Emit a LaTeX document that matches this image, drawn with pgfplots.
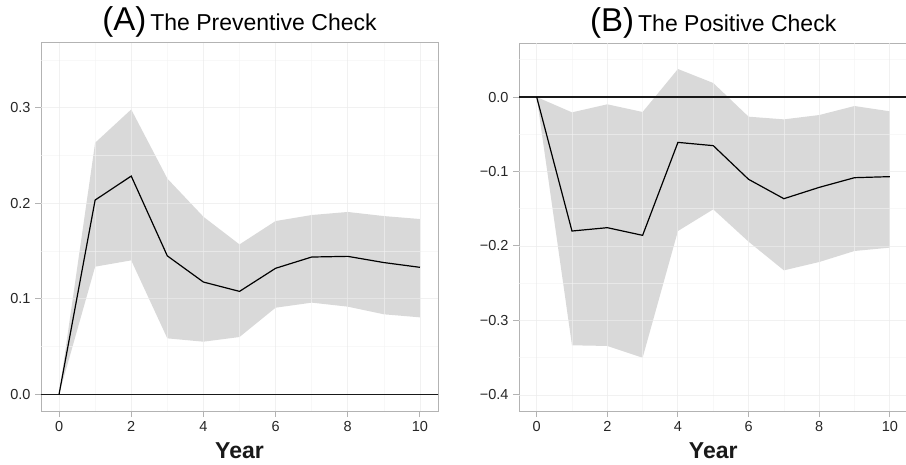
\documentclass[border=0pt]{standalone}
\usepackage{fontspec}
\setmainfont{Liberation Sans}
\usepackage{pgfplots}
\pgfplotsset{compat=1.18}
\definecolor{bandfill}{HTML}{D9D9D9}
\definecolor{framegray}{HTML}{B3B3B3}
\definecolor{majgrid}{HTML}{EBEBEB}
\definecolor{mingrid}{HTML}{F3F3F3}
\pgfplotsset{
  ggpanel/.style={
    scale only axis,
    anchor=south west,
    height=368pt,
    xmin=-0.5, xmax=10.5,
    axis line style={framegray, line width=1pt},
    tick style={framegray, line width=1pt},
    tick align=outside,
    major tick length=6pt,
    xtick={0,2,4,6,8,10},
    xticklabels={0,2,4,6,8,10},
    xtick pos=bottom, ytick pos=left,
    ticklabel style={font=\fontsize{14.5}{14.5}\selectfont, text=black!85},
    xticklabel style={yshift=-1pt},
    yticklabel style={xshift=-1pt},
    title style={at={(0.5,1)}, anchor=base, yshift=6pt},
    xlabel style={at={(0.5,0)}, anchor=base, yshift=-47pt, font=\fontsize{23}{23}\selectfont\bfseries, text=black!90},
    /pgf/number format/assume math mode=true,
  },
}
\newcommand{\vgrid}[2]{\pgfplotsinvokeforeach{#2}{\draw[#1] ({axis cs:##1,0} |- {rel axis cs:0,0}) -- ({axis cs:##1,0} |- {rel axis cs:0,1});}}
\newcommand{\hgrid}[2]{\pgfplotsinvokeforeach{#2}{\draw[#1] ({rel axis cs:0,0} |- {axis cs:0,##1}) -- ({rel axis cs:1,0} |- {axis cs:0,##1});}}
\begin{document}
\begin{tikzpicture}
\useasboundingbox (0pt,0pt) rectangle (906pt,464pt);
% Panel A
\begin{axis}[ggpanel,
  at={(41pt,53pt)}, width=397pt,
  ymin=-0.0175, ymax=0.368,
  ytick={0,0.1,0.2,0.3},
  yticklabels={0.0,0.1,0.2,0.3},
  title={{\fontsize{33}{33}\selectfont (A)}\hspace{4pt}{\fontsize{23}{23}\selectfont The Preventive Check}},
  xlabel={Year},
]
\addplot[fill=bandfill, draw=none] coordinates {
(0,0) (1,0.2635) (2,0.2984) (3,0.226) (4,0.186) (5,0.157) (6,0.1815) (7,0.1878) (8,0.191) (9,0.1867) (10,0.1836)
(10,0.0806) (9,0.0838) (8,0.0918) (7,0.096) (6,0.0907) (5,0.060) (4,0.0551) (3,0.0586) (2,0.1403) (1,0.1337) (0,0)
};
\vgrid{mingrid, line width=0.6pt, opacity=0.6}{1,3,5,7,9}
\hgrid{mingrid, line width=0.6pt, opacity=0.6}{0.05,0.15,0.25,0.35}
\vgrid{majgrid, line width=0.9pt, opacity=0.7}{0,2,4,6,8,10}
\hgrid{majgrid, line width=0.9pt, opacity=0.7}{0,0.1,0.2,0.3}
\addplot[black!90, line width=1.5pt] coordinates {(-0.6,0) (10.6,0)};
\addplot[black, line width=1.2pt] coordinates {
(0,0) (1,0.2035) (2,0.2286) (3,0.145) (4,0.1176) (5,0.1078) (6,0.132) (7,0.1438) (8,0.1445) (9,0.138) (10,0.133)
};
\end{axis}
% Panel B
\begin{axis}[ggpanel,
  at={(519pt,53pt)}, width=388.5pt,
  ymin=-0.4215, ymax=0.0725,
  ytick={-0.4,-0.3,-0.2,-0.1,0},
  yticklabels={−0.4,−0.3,−0.2,−0.1,0.0},
  title={{\fontsize{33}{33}\selectfont (B)}\hspace{4pt}{\fontsize{23}{23}\selectfont The Positive Check}},
  xlabel={Year},
]
\addplot[fill=bandfill, draw=none] coordinates {
(0,0) (1,-0.0206) (2,-0.0098) (3,-0.0201) (4,0.0376) (5,0.0188) (6,-0.0264) (7,-0.030) (8,-0.0242) (9,-0.0121) (10,-0.0192)
(10,-0.2022) (9,-0.2067) (8,-0.2215) (7,-0.2327) (6,-0.1942) (5,-0.1508) (4,-0.1799) (3,-0.35) (2,-0.3342) (1,-0.3333) (0,0)
};
\vgrid{mingrid, line width=0.6pt, opacity=0.6}{1,3,5,7,9}
\hgrid{mingrid, line width=0.6pt, opacity=0.6}{-0.35,-0.25,-0.15,-0.05,0.05}
\vgrid{majgrid, line width=0.9pt, opacity=0.7}{0,2,4,6,8,10}
\hgrid{majgrid, line width=0.9pt, opacity=0.7}{-0.4,-0.3,-0.2,-0.1,0}
\addplot[black!90, line width=1.5pt] coordinates {(-0.6,0) (10.6,0)};
\addplot[black, line width=1.2pt] coordinates {
(0,0) (1,-0.1799) (2,-0.1754) (3,-0.1857) (4,-0.0609) (5,-0.0653) (6,-0.1105) (7,-0.1365) (8,-0.1213) (9,-0.1083) (10,-0.1069)
};
\end{axis}
\end{tikzpicture}
\end{document}
